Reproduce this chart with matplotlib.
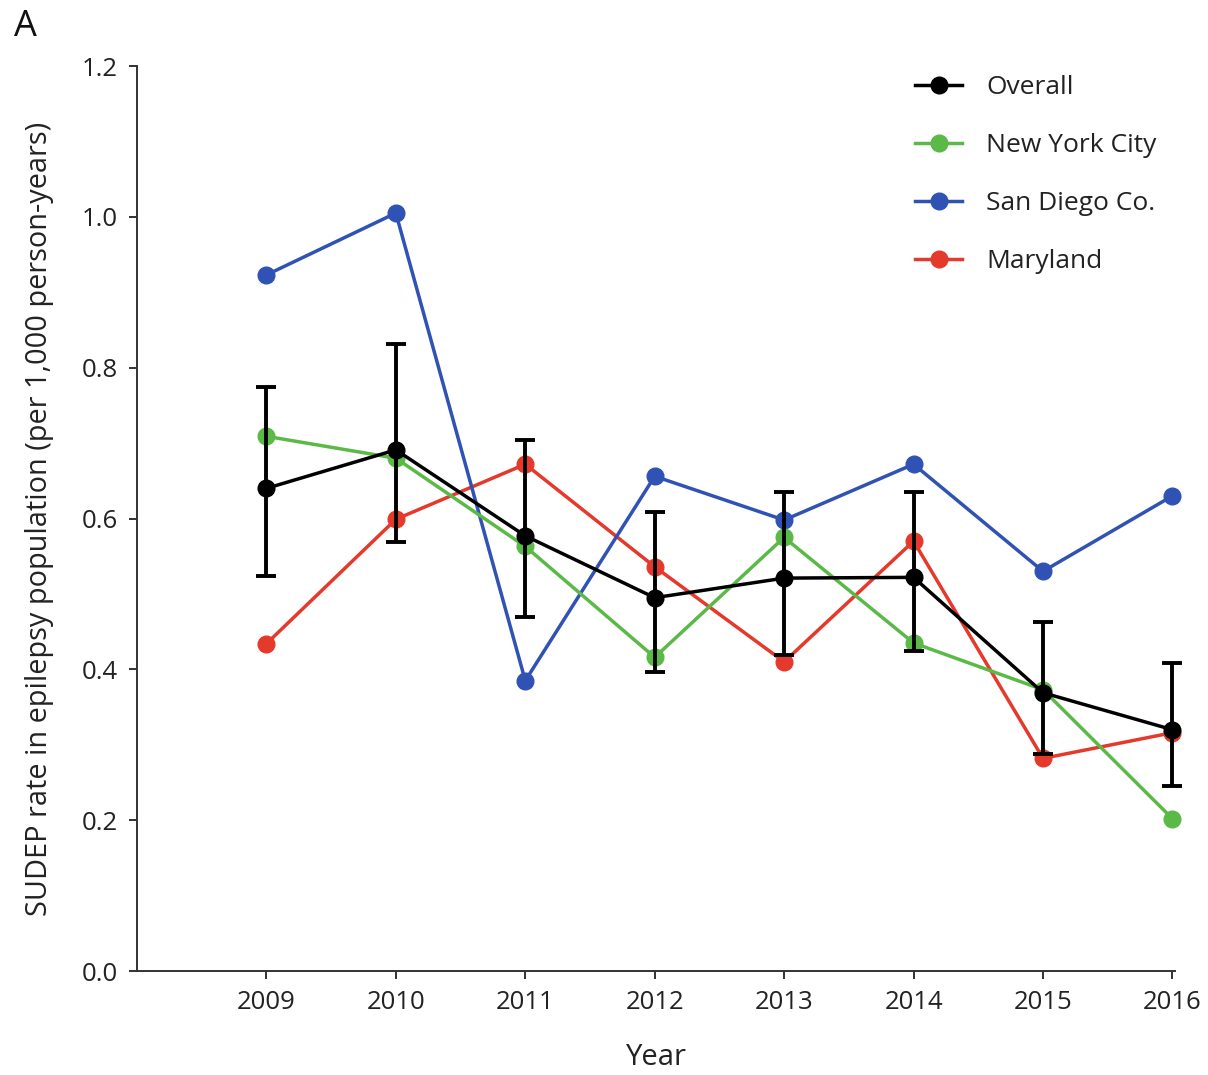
import matplotlib
matplotlib.use("Agg")
import matplotlib.pyplot as plt

plt.rcParams["font.family"] = ["Open Sans", "DejaVu Sans"]

years = [2009, 2010, 2011, 2012, 2013, 2014, 2015, 2016]
overall = [0.640, 0.691, 0.577, 0.495, 0.521, 0.522, 0.369, 0.320]
overall_lo = [0.524, 0.569, 0.469, 0.396, 0.419, 0.424, 0.288, 0.245]
overall_hi = [0.774, 0.831, 0.704, 0.609, 0.635, 0.635, 0.463, 0.408]
nyc = [0.709, 0.680, 0.563, 0.416, 0.575, 0.435, 0.373, 0.202]
san_diego = [0.923, 1.005, 0.385, 0.656, 0.598, 0.672, 0.530, 0.630]
maryland = [0.434, 0.599, 0.672, 0.536, 0.410, 0.570, 0.282, 0.316]

GREEN, BLUE, RED = "#5bb947", "#2f52b4", "#e5392b"

fig = plt.figure(figsize=(12.08, 10.75), dpi=100)
ax = fig.add_axes([0.1134, 0.0967, 0.8593, 0.8419])

kw = dict(lw=2.5, marker="o", ms=12, clip_on=False)
l_md, = ax.plot(years, maryland, color=RED, label="Maryland", zorder=3, **kw)
l_sd, = ax.plot(years, san_diego, color=BLUE, label="San Diego Co.", zorder=3, **kw)
l_ny, = ax.plot(years, nyc, color=GREEN, label="New York City", zorder=4, **kw)
yerr = [[o - lo for o, lo in zip(overall, overall_lo)],
        [hi - o for o, hi in zip(overall, overall_hi)]]
ax.errorbar(years, overall, yerr=yerr, fmt="none", ecolor="black",
            elinewidth=2.8, capsize=7.5, capthick=2.8, zorder=5, clip_on=False)
l_ov, = ax.plot(years, overall, color="black", label="Overall", zorder=6, **kw)

ax.set_xlim(2008, 2016.02)
ax.set_ylim(0, 1.2)
ax.set_xticks(years)
ax.set_yticks([0.0, 0.2, 0.4, 0.6, 0.8, 1.0, 1.2])
ax.set_yticklabels(["0.0", "0.2", "0.4", "0.6", "0.8", "1.0", "1.2"])
ax.tick_params(labelsize=18.5, colors="#222222", length=6, width=1.3, pad=8)
for s in ("top", "right"):
    ax.spines[s].set_visible(False)
for s in ("left", "bottom"):
    ax.spines[s].set_linewidth(1.4)
    ax.spines[s].set_color("#333333")

ax.set_xlabel("Year", fontsize=21, labelpad=20, color="#222222")
ax.set_ylabel("SUDEP rate in epilepsy population (per 1,000 person-years)",
              fontsize=20.8, labelpad=20, color="#222222")

ax.legend(handles=[l_ov, l_ny, l_sd, l_md], loc="upper right",
          bbox_to_anchor=(1.005, 1.016), frameon=False, fontsize=19,
          handlelength=1.8, labelspacing=1.25, handletextpad=0.9,
          labelcolor="#222222")

fig.text(0.012, 0.975, "A", fontsize=26, color="#111111", va="center")

fig.savefig("out.png", dpi=100)
